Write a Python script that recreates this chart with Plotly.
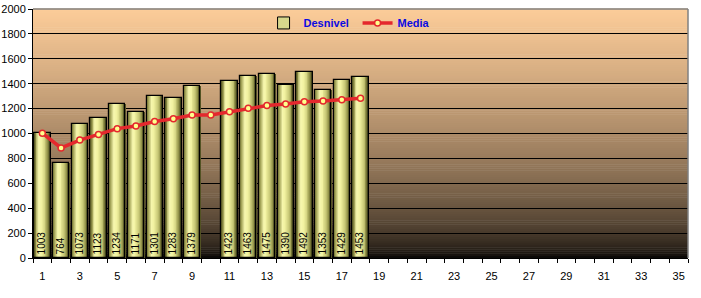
import plotly.graph_objects as go

# ---- data ----
categories = list(range(1, 36))
desnivel = [1003, 764, 1073, 1123, 1234, 1171, 1301, 1283, 1379, None,
            1423, 1463, 1475, 1390, 1492, 1353, 1429, 1453]
media = [1003, 884, 947, 991, 1039, 1061, 1096, 1119, 1148, 1148,
         1175, 1202, 1224, 1237, 1255, 1262, 1272, 1283]
bar_x = categories[:len(desnivel)]
line_x = categories[:len(media)]
bar_labels = ["" if v is None else str(v) for v in desnivel]
x_tickvals = list(range(1, 36, 2))
y_tickvals = list(range(0, 2001, 200))

# ---- styling helpers ----
def lerp_stops(stops, u):
    for (u0, c0), (u1, c1) in zip(stops, stops[1:]):
        if u0 <= u <= u1:
            f = (u - u0) / (u1 - u0) if u1 > u0 else 0
            return tuple(int(round(a + (b - a) * f)) for a, b in zip(c0, c1))
    return stops[-1][1]

bar_stops = [(0.0, (70, 70, 25)), (0.12, (155, 155, 80)), (0.32, (248, 248, 175)),
             (0.48, (242, 242, 160)), (0.72, (200, 200, 118)), (0.88, (140, 140, 68)),
             (1.0, (65, 65, 25))]

BW = 0.87
NSTRIPE = 18

fig = go.Figure()

# base bar (legend entry)
fig.add_trace(go.Bar(x=bar_x, y=desnivel, name="Desnivel", width=BW,
                     marker=dict(color="rgb(215,215,140)", line=dict(color="black", width=1)),
                     showlegend=True, hoverinfo="skip"))

# gradient stripes
dw = BW / NSTRIPE
for i in range(NSTRIPE):
    u = (i + 0.5) / NSTRIPE
    c = lerp_stops(bar_stops, u)
    fig.add_trace(go.Bar(x=bar_x, y=desnivel, width=dw * 1.6 if i < NSTRIPE - 1 else dw,
                         offset=-BW / 2 + i * dw,
                         marker=dict(color="rgb(%d,%d,%d)" % c, line=dict(width=0)),
                         showlegend=False, hoverinfo="skip"))

# outline + labels
fig.add_trace(go.Bar(x=bar_x, y=desnivel, width=BW,
                     marker=dict(color="rgba(0,0,0,0)", line=dict(color="black", width=1.2)),
                     text=bar_labels, textposition="inside", insidetextanchor="start",
                     textangle=-90, textfont=dict(size=10, color="black", family="Arial, Liberation Sans"),
                     constraintext="none", showlegend=False, hoverinfo="skip"))

# media line
fig.add_trace(go.Scatter(x=line_x, y=media, name="Media", mode="lines+markers",
                         line=dict(color="rgb(228,40,45)", width=3.5),
                         marker=dict(symbol="circle", size=6, color="rgb(255,255,140)",
                                     line=dict(color="rgb(228,40,45)", width=1.5))))

# background gradient
shapes = []
NB = 120
top = (252, 204, 153)
for k in range(NB):
    t = (k + 0.5) / NB  # fraction from bottom
    f = t ** 0.55
    c = tuple(int(round(v * f)) for v in top)
    shapes.append(dict(type="rect", xref="x domain", yref="y domain",
                       x0=0, x1=1, y0=k / NB, y1=(k + 1) / NB + 0.002,
                       fillcolor="rgb(%d,%d,%d)" % c, line=dict(width=0), layer="below"))
# gray top/right border
shapes.append(dict(type="line", xref="x domain", yref="y domain", x0=0, x1=1, y0=1, y1=1,
                   line=dict(color="rgb(128,128,128)", width=1.5), layer="above"))
shapes.append(dict(type="line", xref="x domain", yref="y domain", x0=1, x1=1, y0=0, y1=1,
                   line=dict(color="rgb(128,128,128)", width=1.5), layer="above"))

fig.update_layout(
    width=701, height=298,
    margin=dict(l=33, r=13, t=9, b=40, autoexpand=False),
    paper_bgcolor="white", plot_bgcolor="rgba(0,0,0,0)",
    barmode="overlay", bargap=0,
    shapes=shapes,
    font=dict(family="Arial, Liberation Sans", size=11, color="black"),
    legend=dict(orientation="h", x=0.352, y=0.944, xanchor="left", yanchor="middle",
                bgcolor="rgba(0,0,0,0)",
                font=dict(family="Arial, Liberation Sans", size=11, color="rgb(10,10,225)", weight="bold"),
                itemwidth=30, entrywidth=49, traceorder="normal"),
    showlegend=True,
)
fig.update_xaxes(range=[0.5, 35.5], tickmode="array", tickvals=x_tickvals, ticks="",
                 showgrid=False, zeroline=False, showline=True, linecolor="black", linewidth=1,
                 automargin=False, ticklabelstandoff=8,
                 minor=dict(tickmode="linear", tick0=0.5, dtick=1, ticks="outside", ticklen=4,
                            tickcolor="black", showgrid=False),
                 tickfont=dict(size=11, color="black"))
fig.update_yaxes(range=[0, 2000], tickmode="array", tickvals=y_tickvals, ticks="outside",
                 ticklen=4, tickcolor="black", showgrid=True, gridcolor="black", gridwidth=1,
                 zeroline=False, showline=True, linecolor="black", linewidth=1,
                 automargin=False,
                 tickfont=dict(size=11, color="black"))

fig.write_html("out.html")
